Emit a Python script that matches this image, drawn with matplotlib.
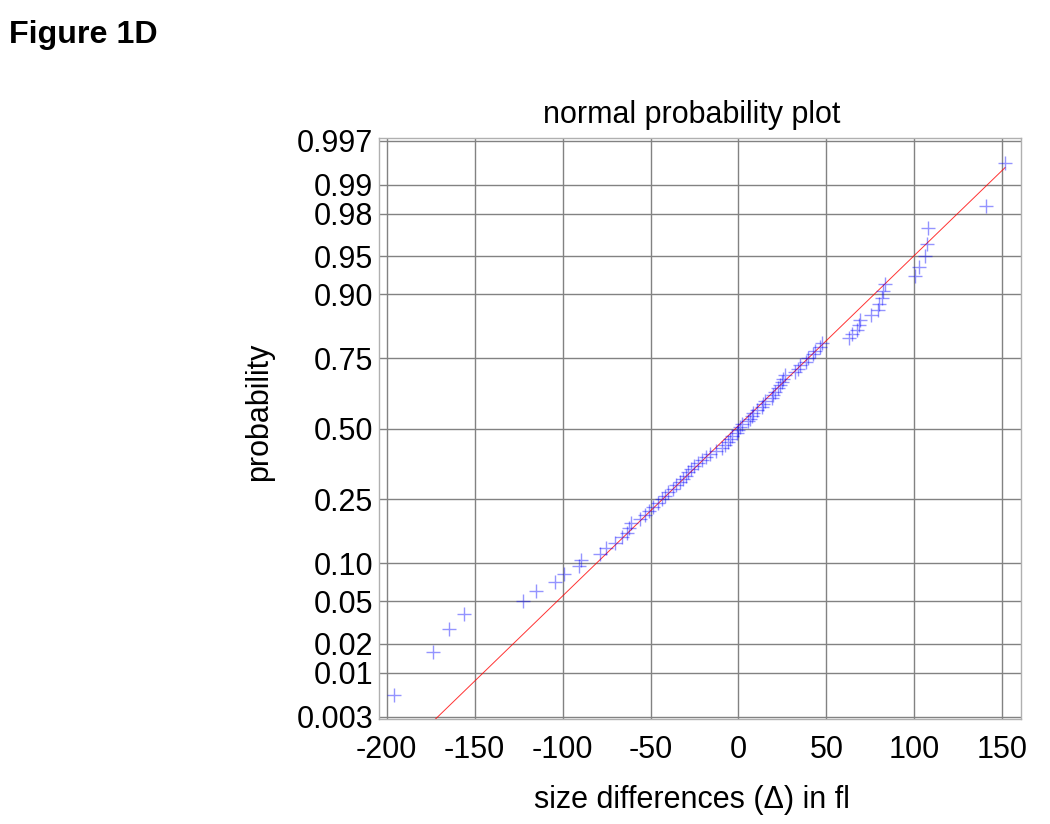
import math
import numpy as np
import matplotlib
matplotlib.use("Agg")
import matplotlib.pyplot as plt
from matplotlib.ticker import FixedLocator, FixedFormatter

# ---------------- data (sorted size differences, fl) ----------------
size_diff = [
    -195.7, -173.8, -164.5, -156.0, -122.6, -115.2, -104.1, -99.0, -90.6, -89.6,
    -78.7, -75.3, -70.0, -66.0, -63.3, -62.2, -61.0, -56.0, -53.0, -51.0,
    -48.5, -46.0, -43.3, -42.0, -40.0, -37.5, -35.5, -33.5, -31.5, -30.0,
    -28.5, -27.0, -25.0, -23.0, -21.0, -18.5, -16.0, -13.0, -9.5, -7.6,
    -5.7, -4.8, -3.8, -1.0, 0.0, 0.9, 1.9, 5.6, 6.6, 7.6,
    8.5, 10.5, 13.2, 14.2, 15.1, 18.9, 19.8, 20.8, 22.7, 23.6,
    24.6, 25.5, 26.5, 32.2, 34.0, 35.0, 38.5, 39.7, 42.6, 43.5,
    46.4, 47.3, 62.6, 64.5, 67.2, 68.7, 69.1, 75.2, 79.5, 80.1,
    81.4, 82.4, 83.3, 100.4, 102.6, 106.1, 107.3, 107.8, 140.6, 151.5,
]
prob_ticks = [0.003, 0.01, 0.02, 0.05, 0.10, 0.25, 0.50, 0.75, 0.90, 0.95, 0.98, 0.99, 0.997]
prob_labels = ["0.003", "0.01", "0.02", "0.05", "0.10", "0.25", "0.50", "0.75",
               "0.90", "0.95", "0.98", "0.99", "0.997"]
x_ticks = [-200, -150, -100, -50, 0, 50, 100, 150]


# ---------------- normal distribution helpers ----------------
def norm_ppf(p):
    p = np.clip(np.asarray(p, dtype=float), 1e-12, 1 - 1e-12)
    a = [-3.969683028665376e+01, 2.209460984245205e+02, -2.759285104469687e+02,
         1.383577518672690e+02, -3.066479806614716e+01, 2.506628277459239e+00]
    b = [-5.447609879822406e+01, 1.615858368580409e+02, -1.556989798598866e+02,
         6.680131188771972e+01, -1.328068155288572e+01]
    c = [-7.784894002430293e-03, -3.223964580411365e-01, -2.400758277161838e+00,
         -2.549732539343734e+00, 4.374664141464968e+00, 2.938163982698783e+00]
    d = [7.784695709041462e-03, 3.224671290700398e-01, 2.445134137142996e+00,
         3.754408661907416e+00]
    plow = 0.02425
    phigh = 1 - plow
    out = np.empty_like(p)
    lo = p < plow
    hi = p > phigh
    mid = ~(lo | hi)
    q = np.sqrt(-2 * np.log(p[lo]))
    out[lo] = (((((c[0]*q + c[1])*q + c[2])*q + c[3])*q + c[4])*q + c[5]) / \
              ((((d[0]*q + d[1])*q + d[2])*q + d[3])*q + 1)
    q = p[mid] - 0.5
    r = q * q
    out[mid] = (((((a[0]*r + a[1])*r + a[2])*r + a[3])*r + a[4])*r + a[5])*q / \
               (((((b[0]*r + b[1])*r + b[2])*r + b[3])*r + b[4])*r + 1)
    q = np.sqrt(-2 * np.log(1 - p[hi]))
    out[hi] = -(((((c[0]*q + c[1])*q + c[2])*q + c[3])*q + c[4])*q + c[5]) / \
               ((((d[0]*q + d[1])*q + d[2])*q + d[3])*q + 1)
    return out


_erf = np.vectorize(math.erf)


def norm_cdf(z):
    z = np.asarray(z, dtype=float)
    return 0.5 * (1.0 + _erf(z / math.sqrt(2.0)))


# ---------------- figure ----------------
plt.rcParams['font.family'] = ['Liberation Sans', 'DejaVu Sans']
plt.rcParams['axes.unicode_minus'] = False
FS = 22

fig = plt.figure(figsize=(10.5, 8.24), dpi=100)
ax = fig.add_axes([0.361, 0.1271, 0.6114, 0.7051])
ax.set_yscale('function', functions=(norm_ppf, norm_cdf))

x = np.asarray(size_diff)
n = len(x)
pp = (np.arange(1, n + 1) - 0.5) / n

# reference line through the quartiles (as normplot does)
q1 = x[int(round(0.25 * n + 0.5)) - 1]
q3 = x[int(round(0.75 * n + 0.5)) - 1]
zq = norm_ppf([0.25, 0.75])
sigma = (q3 - q1) / (zq[1] - zq[0])
mu = q1 - sigma * zq[0]
xl = np.linspace(x.min(), x.max(), 400)
ax.plot(xl, norm_cdf((xl - mu) / sigma), color='red', lw=0.7, alpha=0.8, zorder=3)

ax.plot(x, pp, linestyle='none', marker='+', markersize=9.5, markeredgewidth=1.0,
        color='blue', alpha=0.42, zorder=4)

ax.set_xlim(-204.3, 160.6)
ax.set_ylim(norm_cdf(-2.772), norm_cdf(2.772))

ax.xaxis.set_major_locator(FixedLocator(x_ticks))
ax.yaxis.set_major_locator(FixedLocator(prob_ticks))
ax.yaxis.set_major_formatter(FixedFormatter(prob_labels))
ax.yaxis.set_minor_locator(FixedLocator([]))
ax.grid(True, color='#828282', lw=1.0)
ax.set_axisbelow(True)
for s in ax.spines.values():
    s.set_color('#b0b0b0')
    s.set_linewidth(1.0)
ax.tick_params(axis='both', length=0, labelsize=FS)
ax.tick_params(axis='x', pad=11)
ax.tick_params(axis='y', pad=4)

ax.set_title('normal probability plot', fontsize=FS, pad=11, x=0.487)
ax.set_xlabel('size differences (\u0394) in fl', fontsize=FS, labelpad=15, x=0.488)
ax.set_ylabel('probability', fontsize=FS, labelpad=16, y=0.53)

fig.text(0.009, 0.9475, 'Figure 1D', fontsize=23.2, fontweight='bold', va='baseline', ha='left')

fig.savefig('out.png', dpi=100)
